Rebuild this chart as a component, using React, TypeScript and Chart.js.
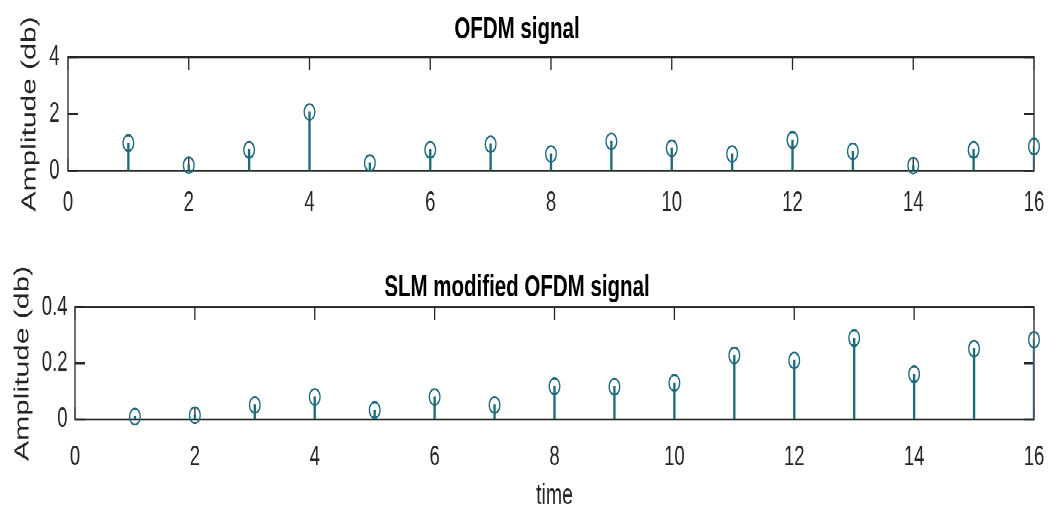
import React, { useEffect, useRef } from 'react';
import { Chart, registerables } from 'chart.js';

Chart.register(...registerables);

// ---- data ----
const time = [1, 2, 3, 4, 5, 6, 7, 8, 9, 10, 11, 12, 13, 14, 15, 16];
const ofdmAmplitude = [0.97, 0.19, 0.73, 2.07, 0.27, 0.73, 0.93, 0.59, 1.03, 0.79, 0.59, 1.08, 0.68, 0.18, 0.73, 0.85];
const slmAmplitude = [0.0095, 0.015, 0.051, 0.08, 0.033, 0.08, 0.051, 0.118, 0.116, 0.13, 0.228, 0.21, 0.29, 0.161, 0.252, 0.284];
const xTicks = [0, 2, 4, 6, 8, 10, 12, 14, 16];
const ofdmYTicks = [0, 2, 4];
const slmYTicks = [0, 0.2, 0.4];
const ofdmTitle = 'OFDM signal';
const slmTitle = 'SLM modified OFDM signal';
const yLabel = 'Amplitude (db)';
const xLabel = 'time';

// ---- style ----
const STRETCH = 1.5;
const W = 1060;
const H = 172;
const FONT = "'Liberation Sans', Arial, Helvetica, sans-serif";
const STEM = '#1e6c78';
const MARK = '#1f6a80';
const AXIS = '#262626';

const framePlugin = {
  id: 'matlabFrame',
  beforeDatasetsDraw(chart: any) {
    const { ctx, chartArea: a, scales } = chart;
    ctx.save();
    ctx.strokeStyle = AXIS;
    ctx.lineWidth = 1.3;
    ctx.strokeRect(a.left, a.top, a.right - a.left, a.bottom - a.top);
    ctx.beginPath();
    for (const t of scales.x.ticks) {
      const px = scales.x.getPixelForValue(t.value);
      ctx.moveTo(px, a.bottom);
      ctx.lineTo(px, a.bottom - 8.5);
      ctx.moveTo(px, a.top);
      ctx.lineTo(px, a.top + 8.5);
    }
    for (const t of scales.y.ticks) {
      const py = scales.y.getPixelForValue(t.value);
      ctx.moveTo(a.left, py);
      ctx.lineTo(a.left + 10, py);
      ctx.moveTo(a.right, py);
      ctx.lineTo(a.right - 10, py);
    }
    ctx.stroke();
    ctx.restore();
  },
};

interface Geo {
  yTicks: number[];
  yMax: number;
  title: string;
  titlePad: { top: number; bottom: number };
  yAxisWidth: number;
  yTickPad: number;
  yTitlePad: number;
  xAxisHeight: number;
  xTickPad: number;
  showXLabel: boolean;
}

function makeConfig(values: number[], g: Geo): any {
  const pts = time.map((t, i) => ({ x: t, y: values[i] }));
  return {
    type: 'bar',
    data: {
      datasets: [
        {
          type: 'bar',
          data: pts,
          backgroundColor: STEM,
          borderWidth: 0,
          barThickness: 1.7,
          order: 2,
        },
        {
          type: 'scatter',
          data: pts,
          showLine: false,
          pointRadius: 5.3,
          pointHoverRadius: 5.3,
          pointBorderWidth: 1.3,
          pointBorderColor: MARK,
          pointBackgroundColor: 'rgba(0,0,0,0)',
          clip: false,
          order: 1,
        },
      ],
    },
    options: {
      responsive: false,
      animation: false,
      devicePixelRatio: 2,
      layout: { padding: { left: 0, right: 26, top: 0, bottom: 0 } },
      plugins: {
        legend: { display: false },
        tooltip: { enabled: false },
        title: {
          display: true,
          text: g.title,
          color: '#000',
          font: { family: FONT, size: 20.5, weight: 'bold', lineHeight: 1.2 },
          padding: g.titlePad,
        },
      },
      scales: {
        x: {
          type: 'linear',
          min: 0,
          max: 16,
          offset: false,
          grid: { display: false, drawTicks: false },
          border: { display: false },
          afterBuildTicks: (s: any) => {
            s.ticks = xTicks.map((v) => ({ value: v }));
          },
          afterFit: (s: any) => {
            s.height = g.xAxisHeight;
          },
          ticks: {
            autoSkip: false,
            maxRotation: 0,
            padding: g.xTickPad,
            color: AXIS,
            font: { family: FONT, size: 18.5, lineHeight: 1.2 },
            callback: (v: any) => String(v),
          },
          title: {
            display: g.showXLabel,
            text: xLabel,
            color: AXIS,
            font: { family: FONT, size: 19.5, lineHeight: 1.2 },
            padding: { top: 0, bottom: 1.7 },
          },
        },
        y: {
          type: 'linear',
          min: 0,
          max: g.yMax,
          grid: { display: false, drawTicks: false },
          border: { display: false },
          afterBuildTicks: (s: any) => {
            s.ticks = g.yTicks.map((v) => ({ value: v }));
          },
          afterFit: (s: any) => {
            s.width = g.yAxisWidth;
          },
          ticks: {
            padding: g.yTickPad,
            color: AXIS,
            font: { family: FONT, size: 18.5, lineHeight: 1.2 },
            callback: (v: any) => String(v),
          },
          title: {
            display: true,
            text: yLabel,
            color: AXIS,
            font: { family: FONT, size: 20, lineHeight: 1.2 },
            padding: { top: g.yTitlePad, bottom: 0 },
          },
        },
      },
    },
    plugins: [framePlugin],
  };
}

export default function App() {
  const topRef = useRef<HTMLCanvasElement>(null);
  const botRef = useRef<HTMLCanvasElement>(null);

  useEffect(() => {
    const c1 = new Chart(
      topRef.current as HTMLCanvasElement,
      makeConfig(ofdmAmplitude, {
        yTicks: ofdmYTicks,
        yMax: 4,
        title: ofdmTitle,
        titlePad: { top: 7.7, bottom: 5.7 },
        yAxisWidth: 68,
        yTickPad: 8.5,
        yTitlePad: 18,
        xAxisHeight: 58.3,
        xTickPad: 10.8,
        showXLabel: false,
      })
    );
    const c2 = new Chart(
      botRef.current as HTMLCanvasElement,
      makeConfig(slmAmplitude, {
        yTicks: slmYTicks,
        yMax: 0.4,
        title: slmTitle,
        titlePad: { top: 7.4, bottom: 0.7 },
        yAxisWidth: 75,
        yTickPad: 7.5,
        yTitlePad: 11,
        xAxisHeight: 64.5,
        xTickPad: 14.4,
        showXLabel: true,
      })
    );
    return () => {
      c1.destroy();
      c2.destroy();
    };
  }, []);

  const canvasStyle: React.CSSProperties = { display: 'block', width: W, height: H };

  return (
    <div
      style={{
        position: 'absolute',
        left: 0,
        top: 0,
        width: W,
        height: H * 2,
        background: '#fff',
        transform: `scaleY(${STRETCH})`,
        transformOrigin: 'top left',
      }}
    >
      <canvas ref={topRef} width={W} height={H} style={canvasStyle} />
      <canvas ref={botRef} width={W} height={H} style={canvasStyle} />
    </div>
  );
}
